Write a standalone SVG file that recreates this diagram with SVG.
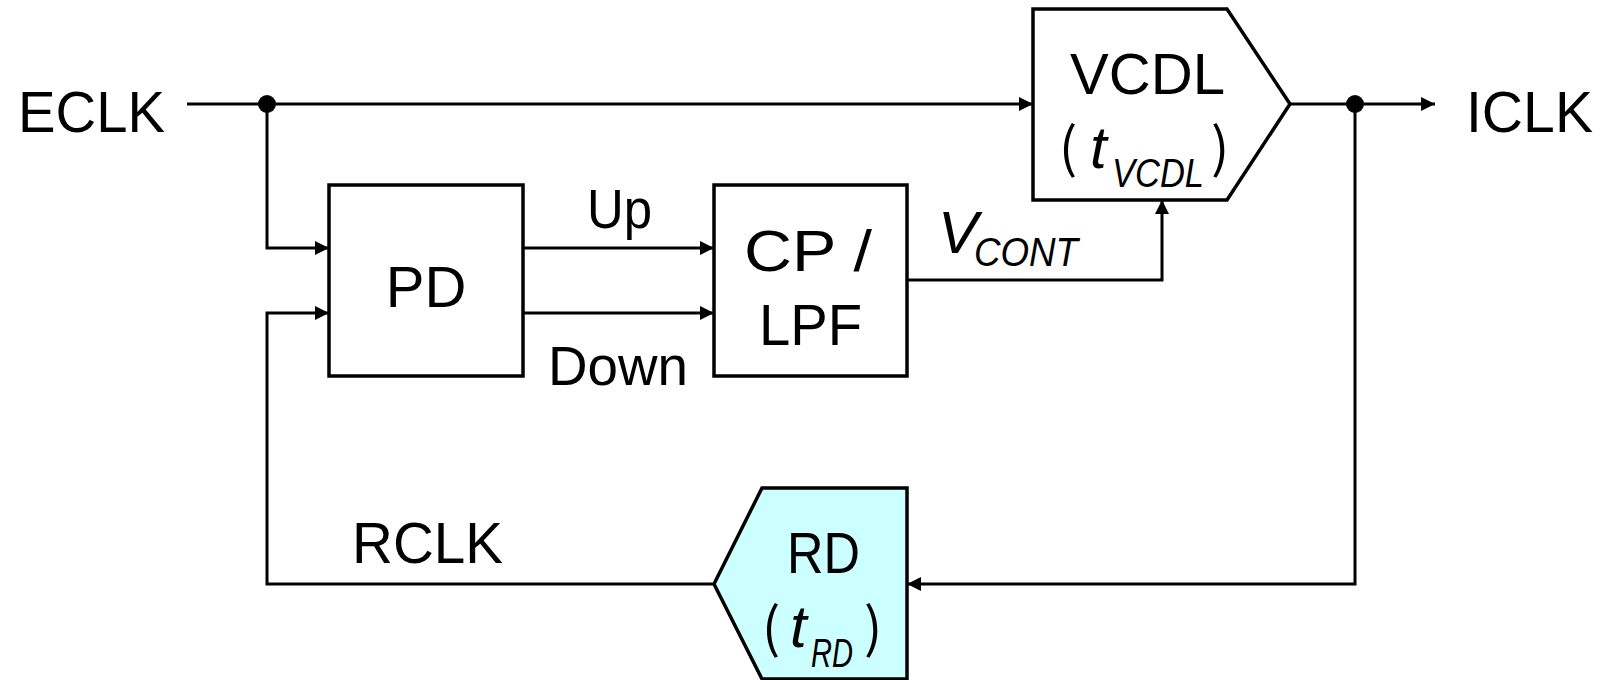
<svg xmlns="http://www.w3.org/2000/svg" width="1603" height="680" viewBox="0 0 1603 680">
<style>
.ln{fill:none;stroke:#000;stroke-width:3;stroke-linejoin:miter}
.bx{fill:#fff;stroke:#000;stroke-width:3.5}
.t{font-family:"Liberation Sans",Arial,sans-serif;font-size:58px;fill:#000}
.i{font-family:"Liberation Sans",Arial,sans-serif;font-style:italic;fill:#000}
.p{font-family:"Noto Sans CJK JP",sans-serif;font-size:54px;font-style:normal;fill:#000}
.big{font-size:60px}
.sub{font-size:40px}
</style>
<defs>
<marker id="ar" viewBox="0 0 14 14" refX="14" refY="7" markerWidth="14" markerHeight="14" markerUnits="userSpaceOnUse" orient="auto">
<path d="M0,0 L14,7 L0,14 Z" fill="#000"/>
</marker>
</defs>
<rect width="1603" height="680" fill="#fff"/>
<g id="connectors">
<path class="ln" d="M187,104 H1033" marker-end="url(#ar)"/>
<path class="ln" d="M267,104 V248 H329" marker-end="url(#ar)"/>
<path class="ln" d="M714,584 H267 V313 H329" marker-end="url(#ar)"/>
<path class="ln" d="M523,248 H714" marker-end="url(#ar)"/>
<path class="ln" d="M523,313 H714" marker-end="url(#ar)"/>
<path class="ln" d="M907,280 H1162 V200" marker-end="url(#ar)"/>
<path class="ln" d="M1290,104 H1435" marker-end="url(#ar)"/>
<path class="ln" d="M1355,104 V584 H907" marker-end="url(#ar)"/>
<circle cx="267" cy="104" r="9" fill="#000"/>
<circle cx="1355" cy="104" r="9" fill="#000"/>
</g>
<g id="ECLK"><text class="t" x="18" y="132" textLength="147" lengthAdjust="spacingAndGlyphs">ECLK</text></g>
<g id="ICLK"><text class="t" x="1466" y="132" textLength="127" lengthAdjust="spacingAndGlyphs">ICLK</text></g>
<g id="PD">
<rect class="bx" x="329" y="185" width="194" height="191"/>
<text class="t" x="426" y="307" text-anchor="middle">PD</text>
</g>
<g id="UpLabel"><text class="t" x="587" y="228" style="font-size:56px" textLength="65" lengthAdjust="spacingAndGlyphs">Up</text></g>
<g id="DownLabel"><text class="t" x="548" y="385" style="font-size:56px" textLength="140" lengthAdjust="spacingAndGlyphs">Down</text></g>
<g id="CPLPF">
<rect class="bx" x="714" y="185" width="193" height="191"/>
<text class="t" x="744" y="271" textLength="128" lengthAdjust="spacingAndGlyphs">CP /</text>
<text class="t" x="759" y="345" textLength="103" lengthAdjust="spacingAndGlyphs">LPF</text>
</g>
<g id="VCONT">
<text class="i big" x="938" y="253">V<tspan class="sub" x="974" y="266" textLength="104" lengthAdjust="spacingAndGlyphs">CONT</tspan></text>
</g>
<g id="VCDL">
<polygon class="bx" points="1033,9 1227,9 1290,104 1227,200 1033,200"/>
<text class="t" x="1070" y="94" textLength="155" lengthAdjust="spacingAndGlyphs">VCDL</text>
<text class="i big" x="1059" y="167"><tspan class="p">(</tspan><tspan x="1090" y="168">t</tspan><tspan class="sub" x="1112" y="187" textLength="92" lengthAdjust="spacingAndGlyphs">VCDL</tspan><tspan class="p" x="1211" y="167">)</tspan></text>
</g>
<g id="RCLK"><text class="t" x="352" y="563" textLength="151" lengthAdjust="spacingAndGlyphs">RCLK</text></g>
<g id="RD">
<polygon class="bx" style="fill:#ccffff" points="714,584 762,488 907,488 907,679 762,679"/>
<text class="t" x="787" y="573" textLength="73" lengthAdjust="spacingAndGlyphs">RD</text>
<text class="i big" x="762" y="647"><tspan class="p">(</tspan><tspan x="790" y="647">t</tspan><tspan class="sub" x="811" y="667" textLength="42" lengthAdjust="spacingAndGlyphs">RD</tspan><tspan class="p" x="864" y="647">)</tspan></text>
</g>
</svg>
